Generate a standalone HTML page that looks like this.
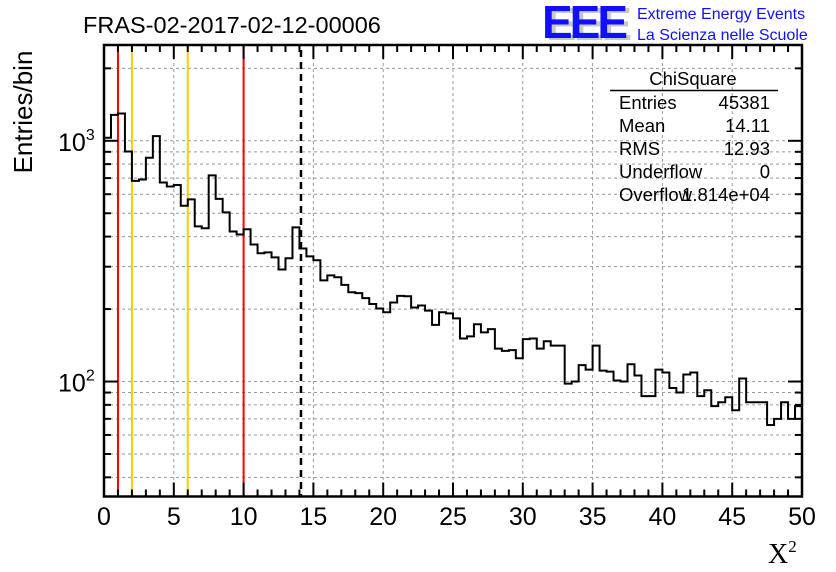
<!DOCTYPE html>
<html><head><meta charset="utf-8"><style>
html,body{margin:0;padding:0;background:#fff;}
svg{display:block;font-family:"Liberation Sans",sans-serif;}
</style></head><body>
<svg id="chart" width="836" height="572" viewBox="0 0 836 572">
<rect width="836" height="572" fill="#fff"/>
<g id="grid"></g>
<g id="vlines"></g>
<path id="hist" fill="none" stroke="#000" stroke-width="2"/>
<g id="axes"></g>
<text x="83" y="33" font-size="23.5">FRAS-02-2017-02-12-00006</text>
<g>
<text x="546" y="40" font-size="46" font-weight="bold" fill="#c8c8c8" letter-spacing="-3">EEE</text>
<text x="542" y="38" font-size="46" font-weight="bold" fill="#1010ff" letter-spacing="-3">EEE</text>
<text x="637" y="19" font-size="16" fill="#1010ff">Extreme Energy Events</text>
<text x="637" y="40" font-size="16" fill="#1010ff">La Scienza nelle Scuole</text>
</g>
<text transform="translate(32,112) rotate(-90)" text-anchor="middle" font-size="26">Entries/bin</text>
<text x="768" y="563" font-size="28" font-family="Liberation Serif,serif">X<tspan font-size="17" dy="-11">2</tspan></text>
<g font-size="18.5">
<text x="693" y="85" text-anchor="middle">ChiSquare</text>
<line x1="610" y1="90.5" x2="778" y2="90.5" stroke="#000" stroke-width="1.5"/>
<text x="619" y="109">Entries</text><text x="770" y="109" text-anchor="end">45381</text>
<text x="619" y="132">Mean</text><text x="770" y="132" text-anchor="end">14.11</text>
<text x="619" y="155">RMS</text><text x="770" y="155" text-anchor="end">12.93</text>
<text x="619" y="178">Underflow</text><text x="770" y="178" text-anchor="end">0</text>
<text x="619" y="201">Overflow</text><text x="770" y="201" text-anchor="end">1.814e+04</text>
</g>
</svg>
<script>
const binWidth = 0.5;
const counts = [1029,1282,1298,903,682,691,850,1046,671,646,655,537,571,441,433,718,574,504,420,408,
429,371,341,344,328,292,325,437,357,331,319,263,276,271,252,235,233,222,210,201,
194,213,227,226,203,207,197,172,194,192,183,151,154,173,160,165,137,134,135,125,
150,151,137,147,141,141,98,100,117,112,141,111,110,101,100,118,106,87,87,112,
109,94,90,107,109,87,92,79,82,86,76,103,82,82,82,66,70,82,70,79];
const xTicks = [0,5,10,15,20,25,30,35,40,45,50];
const redLines = [1,10];
const yellowLines = [2,6];
const meanLine = [14.11];
const X0=104,X1=802,Y0=45,Y1=496.5;
const xMin=0,xMax=50,yLogMin=Math.log10(33.3),yLogMax=Math.log10(2500);
const sx=v=>X0+(v-xMin)/(xMax-xMin)*(X1-X0);
const sy=v=>Y1-(Math.log10(v)-yLogMin)/(yLogMax-yLogMin)*(Y1-Y0);
const NS='http://www.w3.org/2000/svg';
function mk(tag,attrs,parent){const e=document.createElementNS(NS,tag);for(const k in attrs)e.setAttribute(k,attrs[k]);parent.appendChild(e);return e;}
const grid=document.getElementById('grid'),axes=document.getElementById('axes'),vl=document.getElementById('vlines');
const yMinor=[];for(let d=10;d<=1000;d*=10)for(let m=1;m<=9;m++){const v=m*d;if(v>=33.3&&v<=2500)yMinor.push(v);}
yMinor.forEach(v=>{const y=sy(v);
 const g=mk('line',{x1:X0,x2:X1,y1:y,y2:y,stroke:'#999','stroke-dasharray':'3,3','stroke-width':1},grid);
 
 
 const major=(v===100||v===1000);const L=major?14:7;
 mk('line',{x1:X0,x2:X0+L,y1:y,y2:y,stroke:'#000','stroke-width':2},axes);
 mk('line',{x1:X1,x2:X1-L,y1:y,y2:y,stroke:'#000','stroke-width':2},axes);
});
xTicks.forEach(v=>{const x=sx(v);
 if(v>0&&v<50){const g=mk('line',{x1:x,x2:x,y1:Y0,y2:Y1,stroke:'#999','stroke-dasharray':'3,3','stroke-width':1},grid);
 
 }
 const t=mk('text',{x:x,y:525,'text-anchor':'middle','font-size':25},axes);t.textContent=v;
 
 
});
for(let v=0;v<=50;v++){const x=sx(v);const L=v%5===0?14:7;
 mk('line',{x1:x,x2:x,y1:Y1,y2:Y1-L,stroke:'#000','stroke-width':2},axes);
 mk('line',{x1:x,x2:x,y1:Y0,y2:Y0+L,stroke:'#000','stroke-width':2},axes);}
[[100,'2'],[1000,'3']].forEach(([v,e])=>{const t=mk('text',{x:58,y:sy(v)+10,'font-size':25},axes);
 t.innerHTML='10<tspan font-size="16" dy="-11">'+e+'</tspan>';
 
 });
mk('rect',{x:X0,y:Y0,width:X1-X0,height:Y1-Y0,fill:'none',stroke:'#000','stroke-width':2.5},axes);
redLines.forEach(v=>{const l=mk('line',{x1:sx(v),x2:sx(v),y1:Y0,y2:Y1,stroke:'#f00','stroke-width':2},vl);
 
 });
yellowLines.forEach(v=>{const l=mk('line',{x1:sx(v),x2:sx(v),y1:Y0,y2:Y1,stroke:'#fc0','stroke-width':2},vl);
 
 });
meanLine.forEach(v=>{const l=mk('line',{x1:sx(v),x2:sx(v),y1:Y0+5,y2:Y1,stroke:'#000','stroke-width':2.5,'stroke-dasharray':'7,5'},vl);
 
 });
let d='M'+sx(0)+','+Y1;
counts.forEach((c,i)=>{const y=sy(c);d+=' L'+sx(i*binWidth)+','+y+' L'+sx((i+1)*binWidth)+','+y;});
document.getElementById('hist').setAttribute('d',d);
</script>
</body></html>
